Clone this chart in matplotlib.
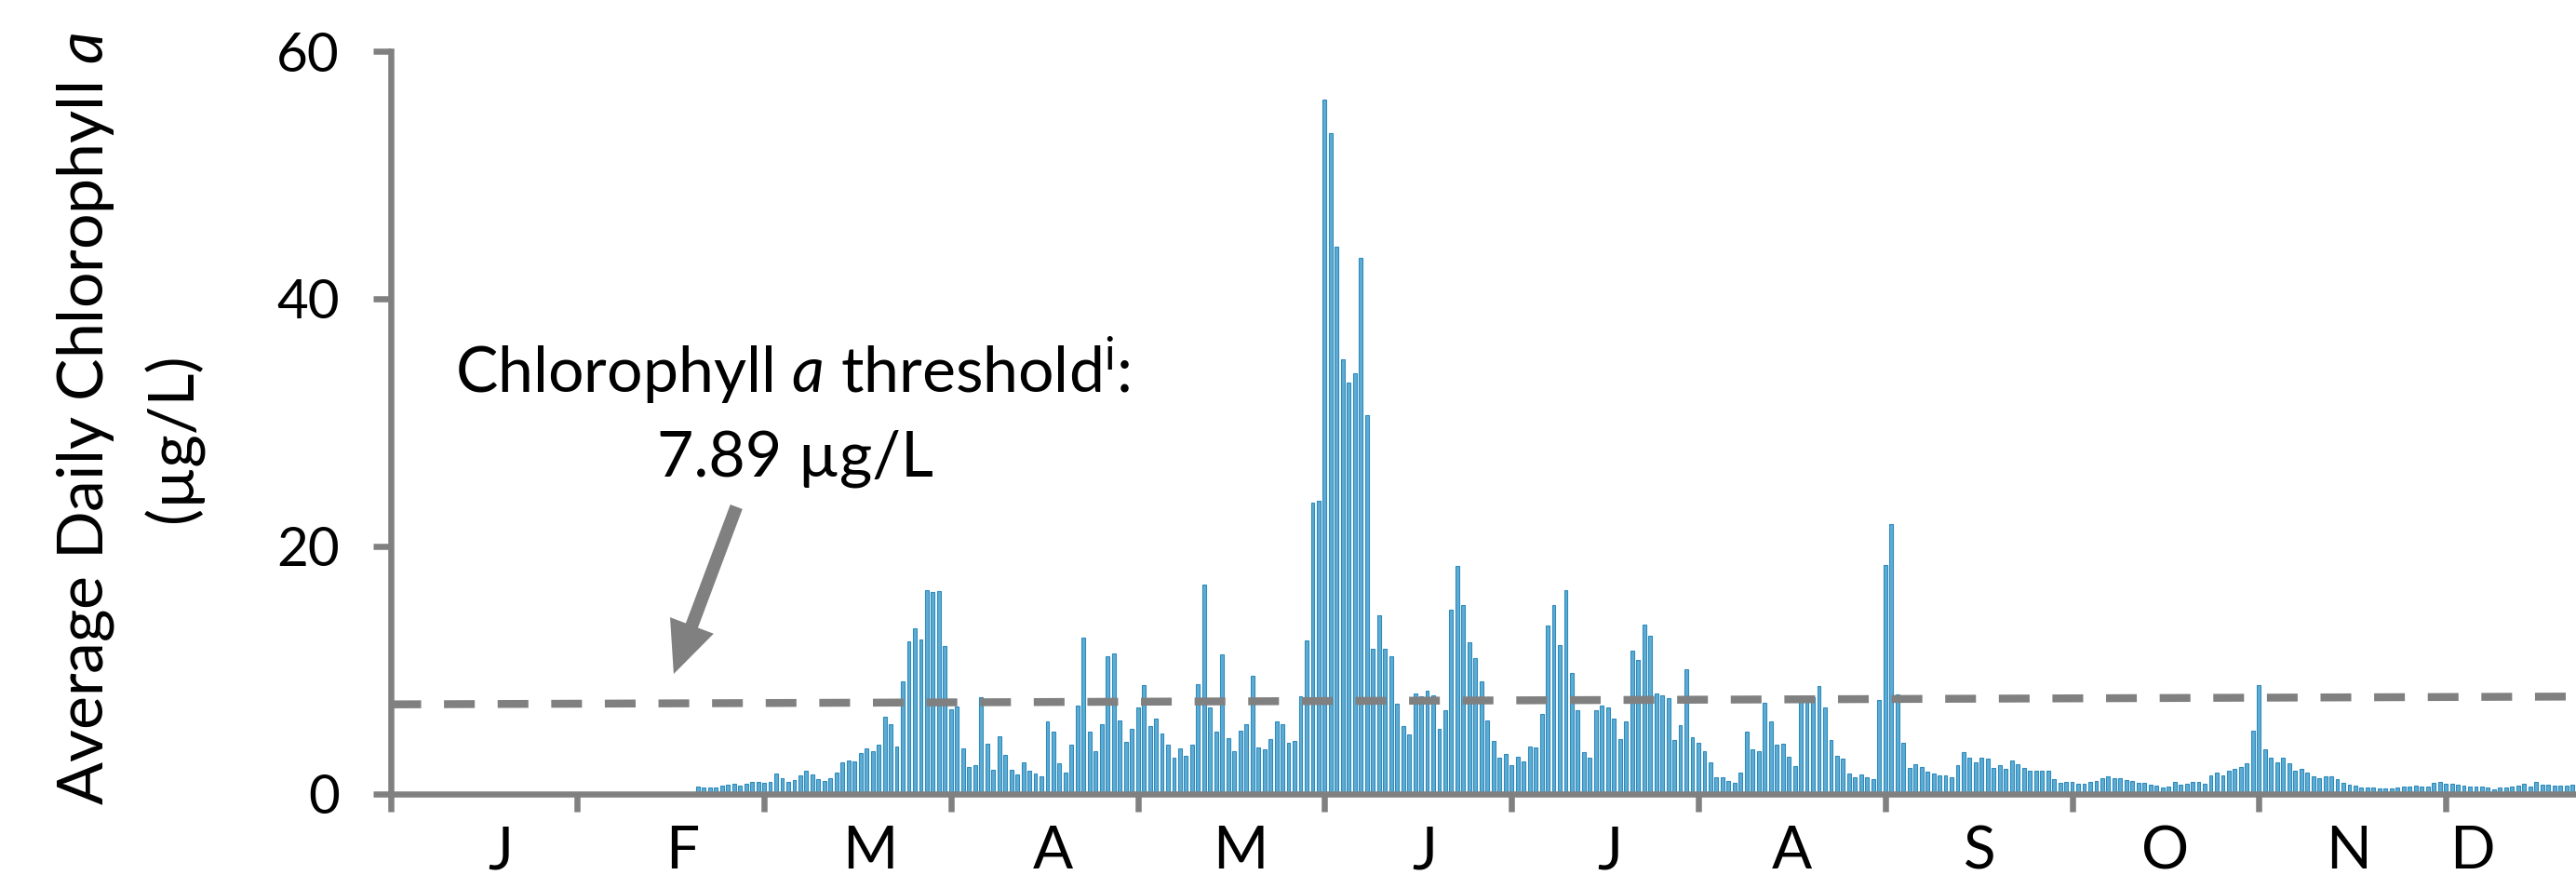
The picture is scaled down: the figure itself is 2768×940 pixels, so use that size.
import numpy as np
import matplotlib.pyplot as plt
from matplotlib.patches import FancyArrowPatch
from matplotlib.transforms import blended_transform_factory

plt.rcParams['font.family'] = ['Lato', 'DejaVu Sans']
plt.rcParams['mathtext.fontset'] = 'custom'
plt.rcParams['mathtext.rm'] = 'Lato'
plt.rcParams['mathtext.it'] = 'Lato:italic'

# daily average chlorophyll a (ug/L); the axis groups days into 31-day months
first_day = 51
feb = [0.58, 0.53, 0.53, 0.53, 0.68, 0.73, 0.85, 0.68, 0.8, 0.98, 0.98]
mar = [0.88, 0.98, 1.65, 1.3, 0.98, 1.15, 1.48, 1.88, 1.6, 1.2, 1.08, 1.25, 1.7, 2.56, 2.68, 2.66,
       3.3, 3.66, 3.43, 3.96, 6.24, 5.61, 3.81, 9.1, 12.33, 13.4, 12.5, 16.47, 16.34, 16.39, 11.98]
apr = [6.82, 7.09, 3.71, 2.18, 2.33, 7.84, 4.09, 1.93, 4.66, 3.13, 1.93, 1.6, 2.56, 1.88, 1.65, 1.4,
       5.89, 5.06, 2.46, 1.75, 4.01, 7.17, 12.66, 5.06, 3.46, 5.61, 11.13, 11.35, 5.96, 4.21, 5.29]
may = [7.02, 8.82, 5.51, 6.07, 4.86, 4.01, 2.96, 3.71, 3.11, 3.96, 8.9, 16.94, 7.0, 5.01, 11.25, 4.5,
       3.48, 5.15, 5.66, 9.55, 3.73, 3.63, 4.4, 5.86, 5.66, 4.11, 4.31, 7.92, 12.43, 23.5, 23.7]
jun = [56.1, 53.4, 44.2, 35.1, 33.2, 34.0, 43.3, 30.6, 11.7, 14.45, 11.7, 11.13, 7.3, 5.5, 4.84, 8.12,
       7.9, 8.37, 7.96, 5.3, 6.75, 14.9, 18.4, 15.3, 12.25, 11.0, 9.07, 5.94, 4.25, 2.93, 3.2]
jul = [2.3, 3.0, 2.6, 3.86, 3.73, 6.49, 13.6, 15.3, 12.05, 16.44, 9.8, 6.77, 3.41, 2.96, 6.8, 7.14,
       7.02, 6.06, 4.41, 5.87, 11.58, 10.8, 13.66, 12.8, 8.12, 7.97, 7.72, 4.36, 5.6, 10.07, 4.56]
aug = [4.1, 3.48, 2.53, 1.37, 1.37, 1.07, 0.9, 1.7, 5.06, 3.58, 3.45, 7.4, 5.9, 3.95, 4.05, 3.0,
       2.25, 7.9, 7.85, 7.85, 8.75, 7.0, 4.38, 3.12, 2.88, 1.65, 1.32, 1.57, 1.37, 1.22, 7.6]
sep = [18.5, 21.8, 8.05, 4.12, 2.12, 2.42, 2.2, 1.83, 1.62, 1.5, 1.5, 1.35, 2.32, 3.42, 2.95, 2.55,
       2.92, 2.87, 2.1, 2.3, 2.05, 2.7, 2.37, 2.07, 1.85, 1.85, 1.87, 1.85, 1.17, 0.92, 0.95]
oct_ = [0.95, 0.82, 0.8, 1.0, 1.07, 1.3, 1.42, 1.25, 1.25, 1.12, 1.07, 0.9, 0.92, 0.72, 0.7, 0.55,
        0.62, 0.97, 0.75, 0.85, 0.95, 0.95, 0.85, 1.47, 1.7, 1.52, 1.85, 2.0, 2.17, 2.45, 5.1]
nov = [8.8, 3.6, 2.92, 2.57, 2.95, 2.45, 1.85, 2.0, 1.7, 1.4, 1.25, 1.4, 1.4, 1.2, 0.9, 0.75,
       0.65, 0.52, 0.55, 0.5, 0.45, 0.42, 0.42, 0.5, 0.6, 0.6, 0.65, 0.57, 0.6, 0.9, 0.95]
dec = [0.8, 0.85, 0.72, 0.65, 0.57, 0.57, 0.57, 0.5, 0.4, 0.5, 0.52, 0.57, 0.7, 0.82, 0.62, 0.95,
       0.75, 0.75, 0.67, 0.67, 0.67, 0.72]

month_labels = ['J', 'F', 'M', 'A', 'M', 'J', 'J', 'A', 'S', 'O', 'N', 'D']
label_pos = [18.3, 48.5, 79.6, 109.9, 141.0, 171.5, 202.3, 232.5, 263.6, 294.4, 324.9, 345.4]
month_len = 31
threshold = 7.89
threshold_start = 7.24

chl = np.array(feb + mar + apr + may + jun + jul + aug + sep + oct_ + nov + dec)
days = np.arange(first_day, first_day + len(chl))

W, H = 2768, 940
fig = plt.figure(figsize=(W / 100, H / 100), dpi=100)
x0, y0, y1 = 419.5, 853, 55
ax = fig.add_axes([x0 / W, (H - y0) / H, (W - x0) / W, (y0 - y1) / H])
ax.set_xlim(0, 362.6)
ax.set_ylim(0, 60)

gray = '#808080'
ax.bar(days, chl, width=0.6, color='#5EACD3', edgecolor='#2F8BBC', linewidth=0.8, zorder=2)

# threshold line (runs to the end of the year, clipped at the right edge)
ax.plot([0, 12 * month_len], [threshold_start, threshold], color=gray, lw=6.1,
        dashes=(3.9, 2.9), dash_capstyle='butt', zorder=3, clip_on=True)

for s in ['top', 'right']:
    ax.spines[s].set_visible(False)
for s in ['left', 'bottom']:
    ax.spines[s].set_color(gray)
    ax.spines[s].set_linewidth(4.7)
    ax.spines[s].set_zorder(4)

ax.set_yticks([0, 20, 40, 60])
ax.set_xticks(np.arange(0, 12) * month_len)
ax.set_xticklabels([])
ax.tick_params(axis='both', direction='out', color=gray, width=4.7, length=13.5)
ax.tick_params(axis='y', labelsize=42, pad=26)

tr = blended_transform_factory(ax.transData, ax.transAxes)
for pos, lab in zip(label_pos, month_labels):
    ax.text(pos, -(886 - y0) / (y0 - y1), lab, transform=tr, ha='center', va='top',
            fontsize=46)

# axis title, two lines
fig.text(92 / W, 1 - 450 / H, r'Average Daily Chlorophyll $\mathit{a}$', rotation=90,
         ha='center', va='center', fontsize=49)
fig.text(186 / W, 1 - 470 / H, '(µg/L)', rotation=90, ha='center', va='center', fontsize=49)

# threshold annotation
ax.text(66.8, 32.4, r'Chlorophyll $\mathit{a}$ threshold$^{\mathrm{i}}$:', ha='center',
        va='baseline', fontsize=49)
ax.text(67.1, 25.7, '7.89 µg/L', ha='center', va='baseline', fontsize=49)
arrow = FancyArrowPatch((57.4, 23.2), (47.0, 9.7),
                        arrowstyle='simple,head_length=40,head_width=36,tail_width=10',
                        mutation_scale=1, color=gray, lw=0, shrinkA=0, shrinkB=0, zorder=3)
ax.add_patch(arrow)

fig.savefig('out.png', dpi=100)
